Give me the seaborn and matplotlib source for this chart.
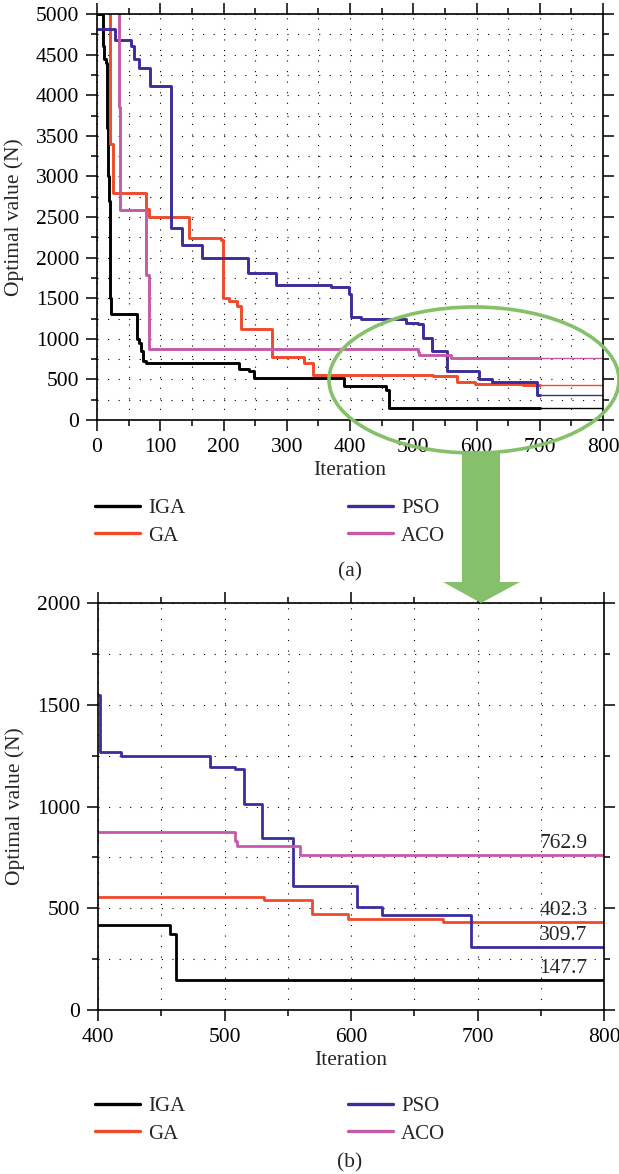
import numpy as np
import matplotlib
matplotlib.use("Agg")
import matplotlib.pyplot as plt
from matplotlib.patches import Ellipse, Polygon
from matplotlib.ticker import MultipleLocator
from matplotlib.lines import Line2D
import seaborn as sns

# convergence curves (steps-post: value holds until next iteration)
iga_x = [0, 10, 11.5, 15, 16, 17.5, 19, 20, 21, 22, 64, 66, 69, 72, 77, 225, 241, 249, 390, 457, 462, 800]
iga_y = [5000, 4600, 4450, 4400, 3600, 3000, 2700, 2000, 1500, 1300, 1000, 950, 850, 730, 700, 630, 600, 520, 420, 375, 147.7, 147.7]

ga_x = [20, 20, 25, 77.5, 81.5, 146, 196, 199, 209, 222, 228, 277, 328, 341, 531, 569, 598, 673, 800]
ga_y = [5000, 3400, 2800, 2600, 2500, 2240, 2220, 1500, 1470, 1400, 1120, 770, 700, 553, 540, 470, 445, 432, 432]

pso_x = [0, 29, 53, 58, 67, 84.5, 117, 134.5, 166, 238.5, 283, 370, 398, 401.5, 418, 488.5, 508, 515.5,
         529.5, 554, 604.5, 624.5, 695, 778, 800]
pso_y = [4820, 4680, 4600, 4440, 4330, 4110, 2370, 2160, 1990, 1810, 1660, 1640, 1550, 1270, 1250, 1195, 1185, 1013,
         845, 609, 507, 465, 312, 309.7, 309.7]

aco_x = [34, 34, 36.5, 77.5, 81.5, 508, 509.5, 560, 800]
aco_y = [5000, 3850, 2590, 1780, 873, 832, 805, 762.9, 762.9]

names = ["IGA", "GA", "PSO", "ACO"]
colors = ["#000000", "#f04a2b", "#3a2e9a", "#c65aa8"]
end_labels = ["147.7", "402.3", "309.7", "762.9"]
series = [(iga_x, iga_y), (ga_x, ga_y), (pso_x, pso_y), (aco_x, aco_y)]

GREEN = "#86c06a"
W, H = 619, 1174
FS = 15.5

sns.set_style("ticks")
plt.rcParams["font.family"] = ["Liberation Serif", "DejaVu Serif"]
plt.rcParams["font.size"] = FS


def split_at(xs, ys, cut):
    xs = np.asarray(xs, float)
    ys = np.asarray(ys, float)
    ycut = ys[xs <= cut][-1]
    m1 = xs < cut
    m2 = xs > cut
    first = (np.append(xs[m1], cut), np.append(ys[m1], ycut))
    second = (np.insert(xs[m2], 0, cut), np.insert(ys[m2], 0, ycut))
    return first, second


def step_line(ax, x, y, color, lw):
    sns.lineplot(x=x, y=y, ax=ax, estimator=None, sort=False,
                 drawstyle="steps-post", color=color, lw=lw)


def style_axes(ax):
    ax.tick_params(which="both", direction="out", top=True, right=True,
                   width=1.1, colors="black", labelsize=FS, pad=5)
    ax.tick_params(which="major", length=8)
    ax.tick_params(which="minor", length=4)
    ax.grid(True, which="both", color="black", lw=0.8, linestyle=(0, (1, 8.5)))
    for s in ax.spines.values():
        s.set_linewidth(1.2)
        s.set_color("black")
    ax.set_xlabel("Iteration", fontsize=FS, labelpad=3)
    ax.set_ylabel("Optimal value (N)", fontsize=FS, labelpad=8)


def add_legend(ax, y_px):
    handles = [Line2D([], [], color=c, lw=2.4) for c in colors]
    ax.legend(handles, names, loc="center left", ncol=2, frameon=False,
              bbox_to_anchor=(95 / W, 1 - y_px / H), bbox_transform=fig.transFigure,
              fontsize=15, handlelength=2.15, handletextpad=0.4, columnspacing=7.8,
              labelspacing=0.4, borderpad=0, borderaxespad=0)


fig = plt.figure(figsize=(W / 100, H / 100), dpi=100)
ax1 = fig.add_axes([97 / W, 1 - 420 / H, 506 / W, 406 / H])
ax2 = fig.add_axes([98 / W, 1 - 1010 / H, 506 / W, 407 / H])

# (a) full run: thick up to iteration 700, thin afterwards
for (x, y), c in zip(series, colors):
    a, b = split_at(x, y, 700)
    step_line(ax1, a[0], a[1], c, 2.1)
    step_line(ax1, b[0], b[1], c, 1.0)
ax1.set_xlim(0, 800)
ax1.set_ylim(0, 5000)
ax1.xaxis.set_major_locator(MultipleLocator(100))
ax1.xaxis.set_minor_locator(MultipleLocator(50))
ax1.yaxis.set_major_locator(MultipleLocator(500))
ax1.yaxis.set_minor_locator(MultipleLocator(250))
style_axes(ax1)

# (b) zoom on iterations 400-800
for (x, y), c, lab in zip(series, colors, end_labels):
    step_line(ax2, x, y, c, 2.0)
    ax2.annotate(lab, xy=(787, y[-1]), xytext=(0, 5), textcoords="offset points",
                 ha="right", va="baseline", fontsize=FS)
ax2.set_xlim(400, 800)
ax2.set_ylim(0, 2000)
ax2.xaxis.set_major_locator(MultipleLocator(100))
ax2.xaxis.set_minor_locator(MultipleLocator(50))
ax2.yaxis.set_major_locator(MultipleLocator(500))
ax2.yaxis.set_minor_locator(MultipleLocator(250))
style_axes(ax2)

add_legend(ax1, 522)
add_legend(ax2, 1120)
fig.text(350 / W, 1 - 572 / H, "(a)", ha="center", va="center", fontsize=FS)
fig.text(350 / W, 1 - 1163 / H, "(b)", ha="center", va="center", fontsize=FS)

# green highlight ellipse and arrow
fig.add_artist(Ellipse((474 / W, 1 - 380 / H), 290 / W, 146 / H, transform=fig.transFigure,
                       fill=False, edgecolor=GREEN, lw=2.6, zorder=5))
arrow_px = [(462, 453), (500, 453), (500, 582), (520, 582), (481, 603), (443, 582), (462, 582)]
fig.add_artist(Polygon([(px / W, 1 - py / H) for px, py in arrow_px], closed=True,
                       transform=fig.transFigure, facecolor=GREEN, edgecolor="none", zorder=5))

fig.savefig("out.png", dpi=100)
